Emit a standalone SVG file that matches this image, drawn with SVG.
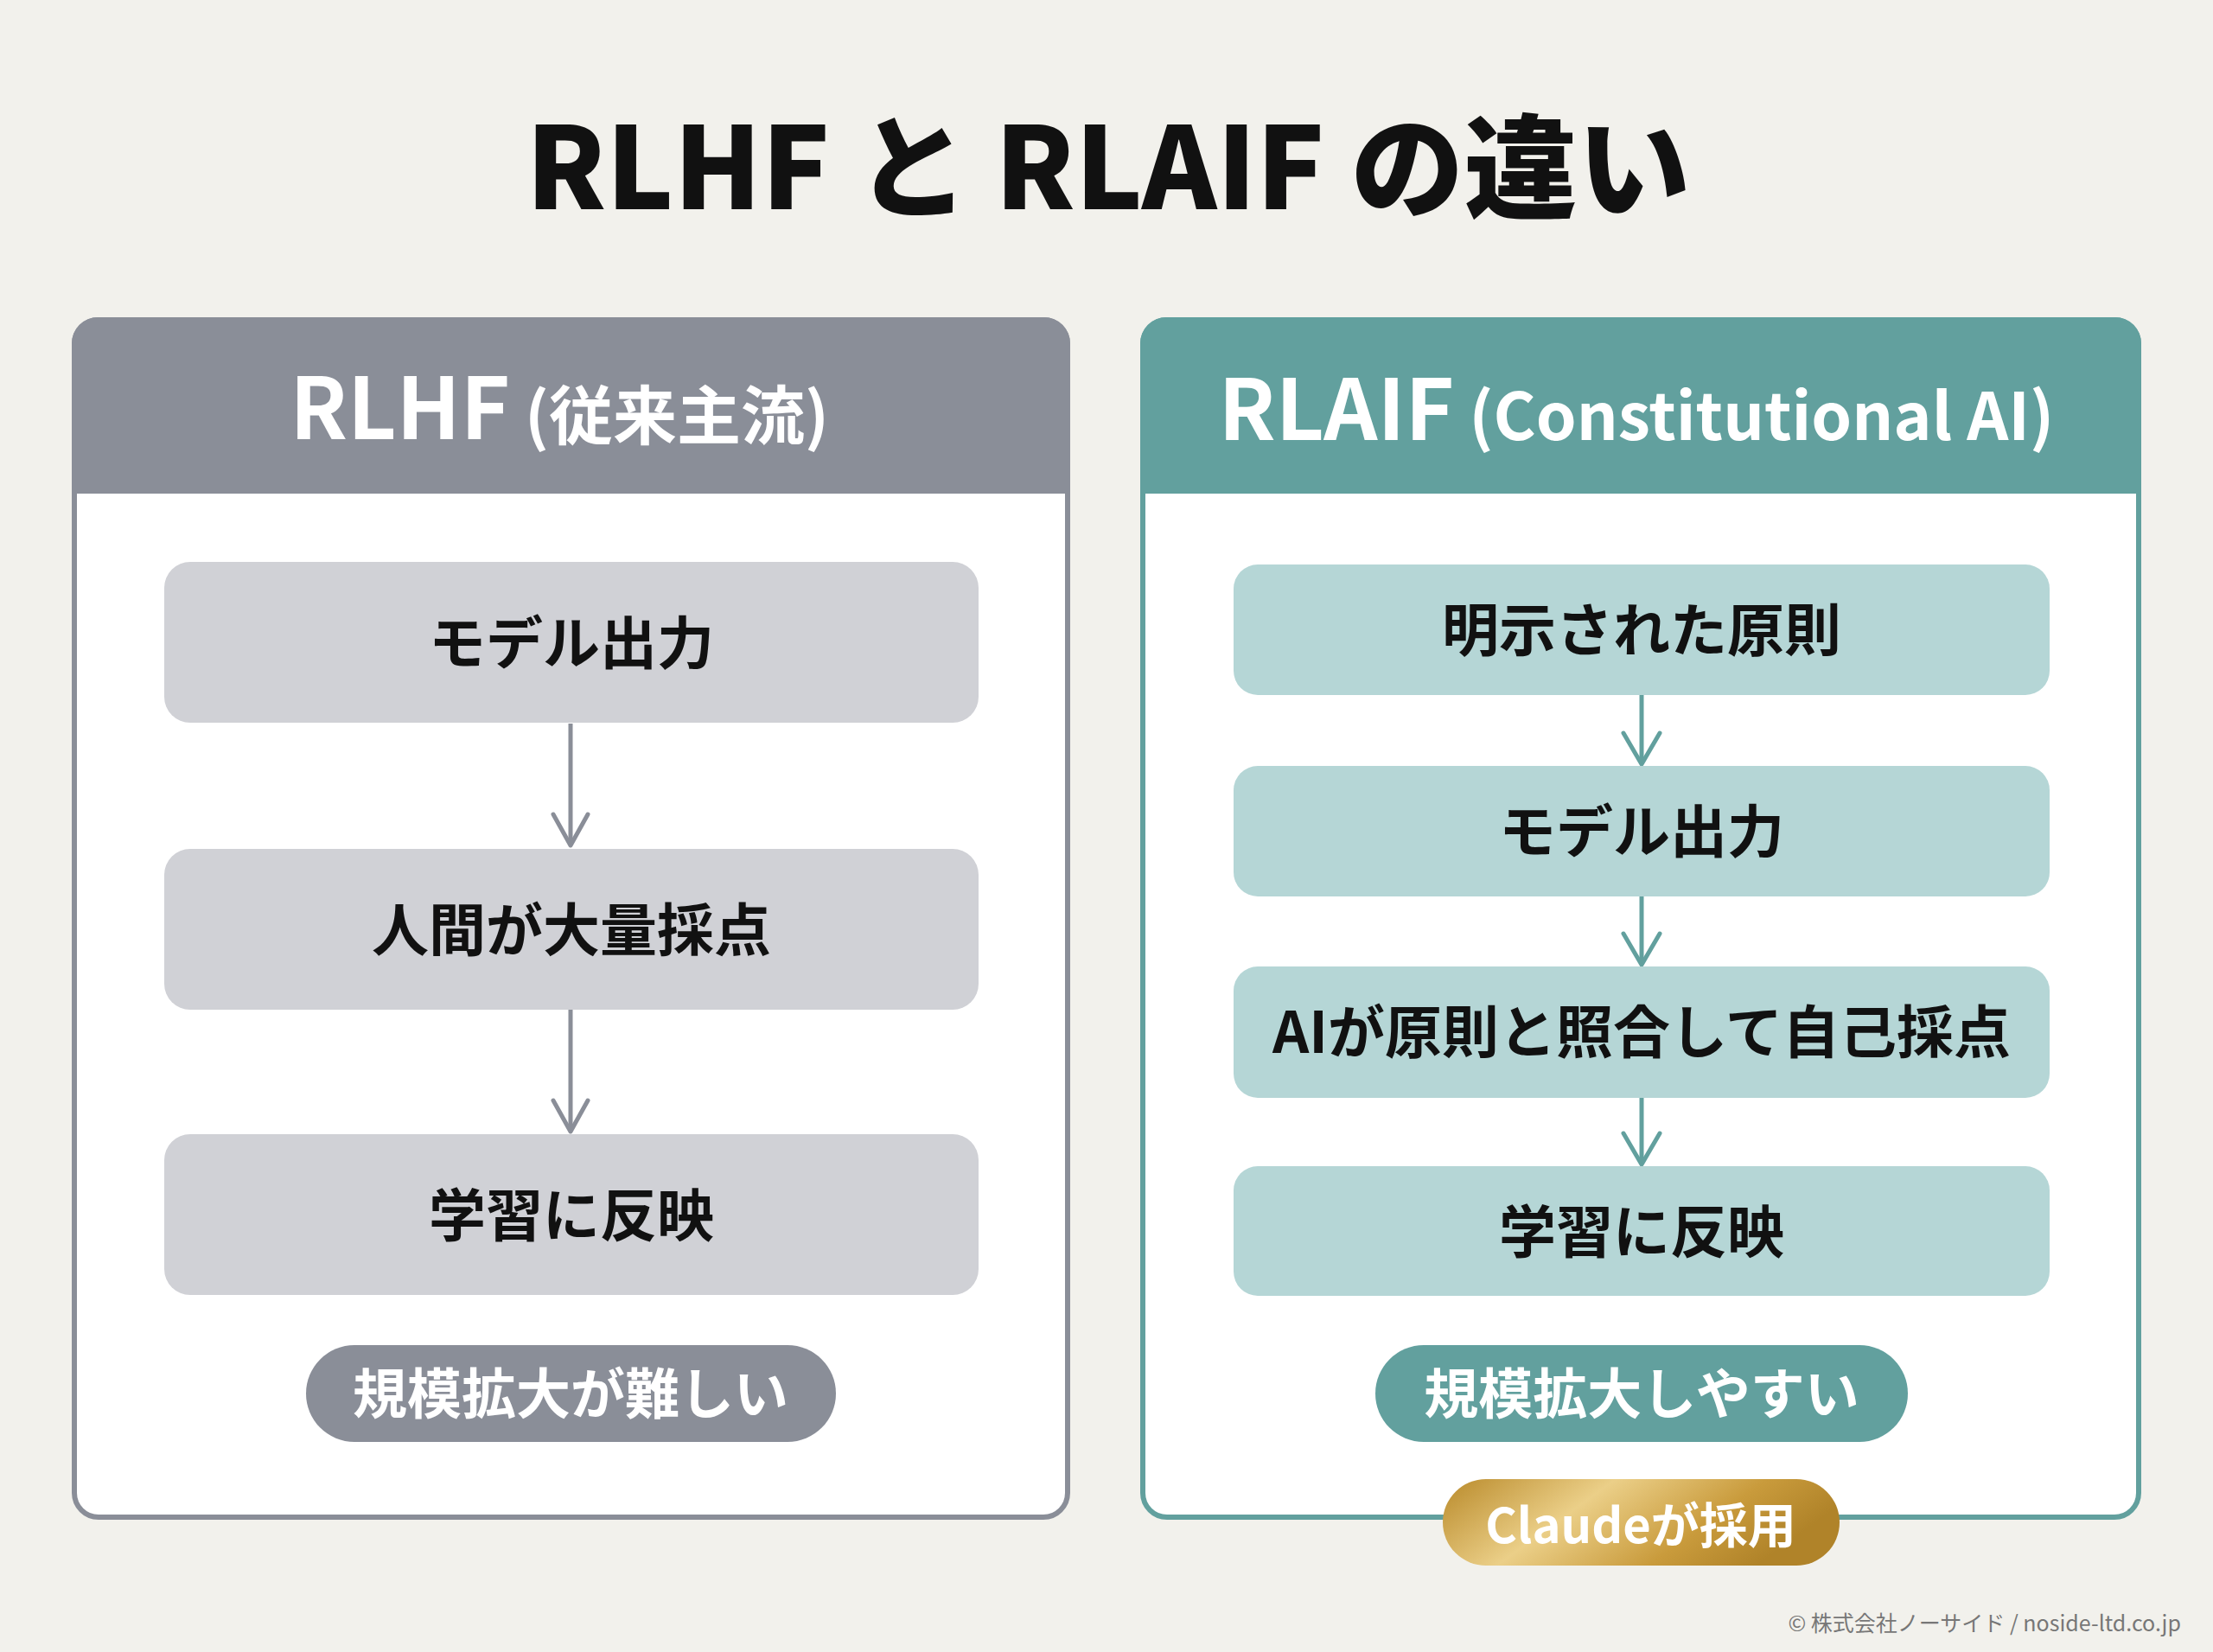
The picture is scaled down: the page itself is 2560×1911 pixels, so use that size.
<svg xmlns="http://www.w3.org/2000/svg" width="2560" height="1911" viewBox="0 0 2560 1911">
<defs>
<style>
text{font-family:"Noto Sans CJK JP","Noto Sans",sans-serif;font-weight:700}
.title{font-size:131px;fill:#111;text-anchor:middle;font-weight:900}
.hd{fill:#fff;text-anchor:middle}
.lbl{font-size:66px;fill:#111;text-anchor:middle}
.pill{font-size:63px;fill:#fff;text-anchor:middle}
.gbox{fill:#d0d1d6}
.tbox{fill:#b5d6d6}
.gline{stroke:#8a8e98;stroke-width:5;fill:none}
.tline{stroke:#62a09e;stroke-width:5;fill:none}
.foot{font-size:25px;font-weight:400;fill:#777;text-anchor:end}
</style>
<marker id="ag" markerUnits="userSpaceOnUse" markerWidth="50" markerHeight="50" viewBox="-42 -25 47 50" refX="0" refY="0" orient="auto" overflow="visible">
<path d="M-36,-20 L0,0 L-36,20" fill="none" stroke="#8a8e98" stroke-width="5" stroke-linecap="round" stroke-linejoin="round"/>
</marker>
<marker id="at" markerUnits="userSpaceOnUse" markerWidth="50" markerHeight="50" viewBox="-42 -25 47 50" refX="0" refY="0" orient="auto" overflow="visible">
<path d="M-36,-21 L0,0 L-36,21" fill="none" stroke="#62a09e" stroke-width="5" stroke-linecap="round" stroke-linejoin="round"/>
</marker>
<linearGradient id="gold" x1="0" y1="0" x2="1" y2="0.3">
<stop offset="0" stop-color="#b98a2a"/>
<stop offset="0.4" stop-color="#ebcf88"/>
<stop offset="0.75" stop-color="#c99b3c"/>
<stop offset="1" stop-color="#b08329"/>
</linearGradient>
</defs>
<rect x="0" y="0" width="2560" height="1911" fill="#f2f1ec"/>
<text class="title" x="1282" y="242">RLHF と RLAIF の違い</text>

<g id="panel-rlhf">
<rect x="86" y="370" width="1149" height="1385" rx="28" fill="#fff" stroke="#8a8e98" stroke-width="6"/>
<path d="M83,571 V397 a30,30 0 0 1 30,-30 H1208 a30,30 0 0 1 30,30 V571 Z" fill="#8a8e98"/>
<text class="hd" x="647" y="508"><tspan font-size="98">RLHF</tspan><tspan font-size="74"> (従来主流)</tspan></text>
</g>

<g id="panel-rlaif">
<rect x="1322" y="370" width="1152" height="1385" rx="28" fill="#fff" stroke="#62a09e" stroke-width="6"/>
<path d="M1319,571 V397 a30,30 0 0 1 30,-30 H2447 a30,30 0 0 1 30,30 V571 Z" fill="#62a09e"/>
<text class="hd" x="1893" y="509"><tspan font-size="97">RLAIF</tspan><tspan font-size="75"> (Constitutional AI)</tspan></text>
</g>

<g id="connectors">
<path class="gline" d="M660,837 V978" marker-end="url(#ag)"/>
<path class="gline" d="M660,1168 V1309" marker-end="url(#ag)"/>
<path class="tline" d="M1899,804 V884" marker-end="url(#at)"/>
<path class="tline" d="M1899,1037 V1116" marker-end="url(#at)"/>
<path class="tline" d="M1899,1270 V1347" marker-end="url(#at)"/>
</g>

<g id="l-model"><rect class="gbox" x="190" y="650" width="942" height="186" rx="30"/><text class="lbl" x="661" y="768">モデル出力</text></g>
<g id="l-human"><rect class="gbox" x="190" y="982" width="942" height="186" rx="30"/><text class="lbl" x="661" y="1100">人間が大量採点</text></g>
<g id="l-learn"><rect class="gbox" x="190" y="1312" width="942" height="186" rx="30"/><text class="lbl" x="661" y="1430">学習に反映</text></g>
<g id="l-pill"><rect x="354" y="1556" width="613" height="112" rx="56" fill="#8a8e98"/><text class="pill" x="660" y="1635">規模拡大が難しい</text></g>

<g id="r-principle"><rect class="tbox" x="1427" y="653" width="944" height="151" rx="28"/><text class="lbl" x="1899" y="753">明示された原則</text></g>
<g id="r-model"><rect class="tbox" x="1427" y="886" width="944" height="151" rx="28"/><text class="lbl" x="1899" y="986">モデル出力</text></g>
<g id="r-ai"><rect class="tbox" x="1427" y="1118" width="944" height="152" rx="28"/><text class="lbl" x="1899" y="1218">AIが原則と照合して自己採点</text></g>
<g id="r-learn"><rect class="tbox" x="1427" y="1349" width="944" height="150" rx="28"/><text class="lbl" x="1899" y="1449">学習に反映</text></g>
<g id="r-pill"><rect x="1591" y="1556" width="616" height="112" rx="56" fill="#62a09e"/><text class="pill" x="1899" y="1635">規模拡大しやすい</text></g>
<g id="r-badge"><rect x="1669" y="1711" width="459" height="100" rx="50" fill="url(#gold)"/><text x="1898" y="1785" font-size="56" fill="#fff" text-anchor="middle">Claudeが採用</text></g>

<text class="foot" x="2523" y="1887">© 株式会社ノーサイド / noside-ltd.co.jp</text>
</svg>
